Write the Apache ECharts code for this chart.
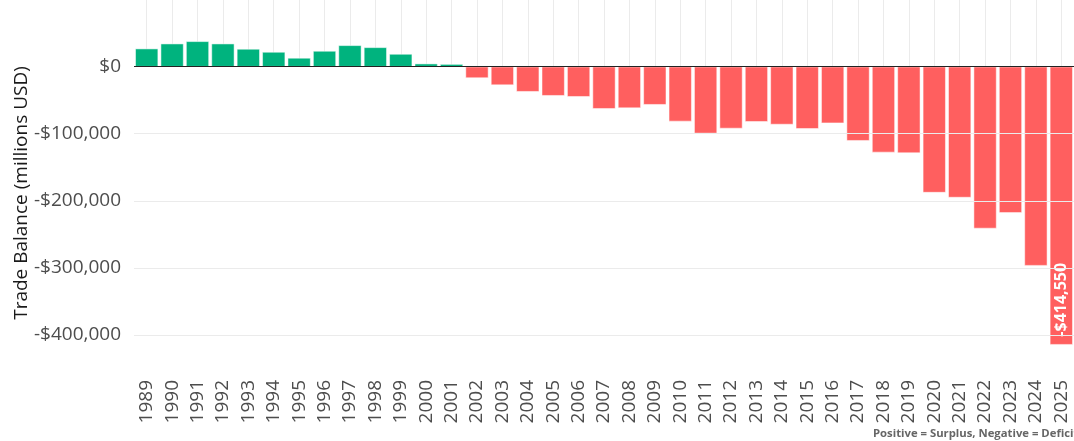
<!DOCTYPE html>
<html>
<head>
    <meta charset="utf-8">
    <title>Trade Balance</title>
    <script src="https://cdn.jsdelivr.net/npm/echarts@6/dist/echarts.min.js"></script>
</head>
<body style="margin: 0; padding: 0; background: #fff;">
<div id="main" style="width: 1074px; height: 441px;"></div>
<script type="text/javascript">
    // 年份和贸易差额（百万美元）
    var years = ['1989','1990','1991','1992','1993','1994','1995','1996','1997','1998',
                 '1999','2000','2001','2002','2003','2004','2005','2006','2007','2008',
                 '2009','2010','2011','2012','2013','2014','2015','2016','2017','2018',
                 '2019','2020','2021','2022','2023','2024','2025'];
    var balance = [26900, 34300, 37800, 34300, 26400, 21900, 13000, 23400, 31800, 28800,
                   18900, 4500, 3800, -16900, -27400, -37300, -43300, -44800, -62700, -61700,
                   -56700, -81600, -99500, -92100, -82100, -86200, -92600, -84200, -110400, -127800,
                   -128800, -187700, -195100, -241200, -218000, -296700, -414550];
    var gridTicks = [-100000, -200000, -300000, -400000];

    function money(v) {
        var s = Math.abs(v).toLocaleString('en-US');
        return (v < 0 ? '-' : '') + '$' + s;
    }

    var lastIdx = balance.length - 1;
    var barData = balance.map(function (v, i) {
        var item = {
            value: v,
            itemStyle: { color: v >= 0 ? '#00B37E' : '#FF5F5F' }
        };
        if (i === lastIdx) {
            item.label = {
                show: true,
                position: 'insideBottom',
                rotate: 90,
                align: 'left',
                verticalAlign: 'middle',
                distance: 8,
                color: '#fff',
                fontWeight: 'bold',
                fontSize: 16,
                fontFamily: 'Open Sans',
                formatter: function (p) { return money(p.value); }
            };
        }
        return item;
    });

    var myChart = echarts.init(document.getElementById('main'));

    var option = {
        animation: false,
        backgroundColor: '#fff',
        textStyle: { fontFamily: 'Open Sans' },
        grid: { left: 134, right: 0, top: 11, bottom: 66, containLabel: false, outerBoundsMode: 'none' },
        xAxis: {
            type: 'category',
            data: years,
            axisLine: { show: false },
            // 用朝内的长刻度当竖向网格线（对齐到类目中心）
            axisTick: {
                show: true,
                alignWithLabel: true,
                inside: true,
                length: 364,
                lineStyle: { color: '#ebebeb', width: 1 }
            },
            axisLabel: {
                rotate: 90,
                margin: 5,
                fontSize: 19,
                color: '#4d4d4d',
                interval: 0
            },
            splitLine: { show: false }
        },
        yAxis: {
            type: 'value',
            min: -459785,
            max: 83035,
            minInterval: 100000,
            maxInterval: 100000,
            name: 'Trade Balance (millions USD)',
            nameLocation: 'middle',
            nameGap: 103,
            nameMoveOverlap: false,
            nameTextStyle: { fontSize: 19, color: '#1a1a1a' },
            axisLine: { show: false },
            axisTick: { show: false },
            splitLine: { show: false },
            axisLabel: {
                showMinLabel: false,
                showMaxLabel: false,
                margin: 13,
                fontSize: 19,
                color: '#4d4d4d',
                formatter: function (v) {
                    if (v % 100000 !== 0) return '';
                    return money(v);
                }
            }
        },
        series: [
            {
                // 横向网格线，放在柱子后面
                type: 'line',
                z: 1,
                silent: true,
                data: [],
                markLine: {
                    silent: true,
                    symbol: 'none',
                    label: { show: false },
                    lineStyle: { color: '#ebebeb', width: 1, type: 'solid' },
                    data: gridTicks.map(function (t) { return { yAxis: t }; })
                }
            },
            {
                name: 'Trade Balance',
                type: 'bar',
                z: 2,
                barCategoryGap: '10%',
                itemStyle: { borderColor: '#fff', borderWidth: 0.5 },
                data: barData,
                markLine: {
                    silent: true,
                    symbol: 'none',
                    label: { show: false },
                    lineStyle: { color: '#222', width: 1, type: 'solid' },
                    data: [{ yAxis: 0 }]
                }
            }
        ],
        graphic: [{
            type: 'text',
            left: 873,
            top: 428,
            style: {
                text: 'Positive = Surplus, Negative = Deficit',
                font: 'bold 11.3px "Open Sans"',
                fill: '#666'
            }
        }]
    };

    myChart.setOption(option);
</script>
</body>
</html>
